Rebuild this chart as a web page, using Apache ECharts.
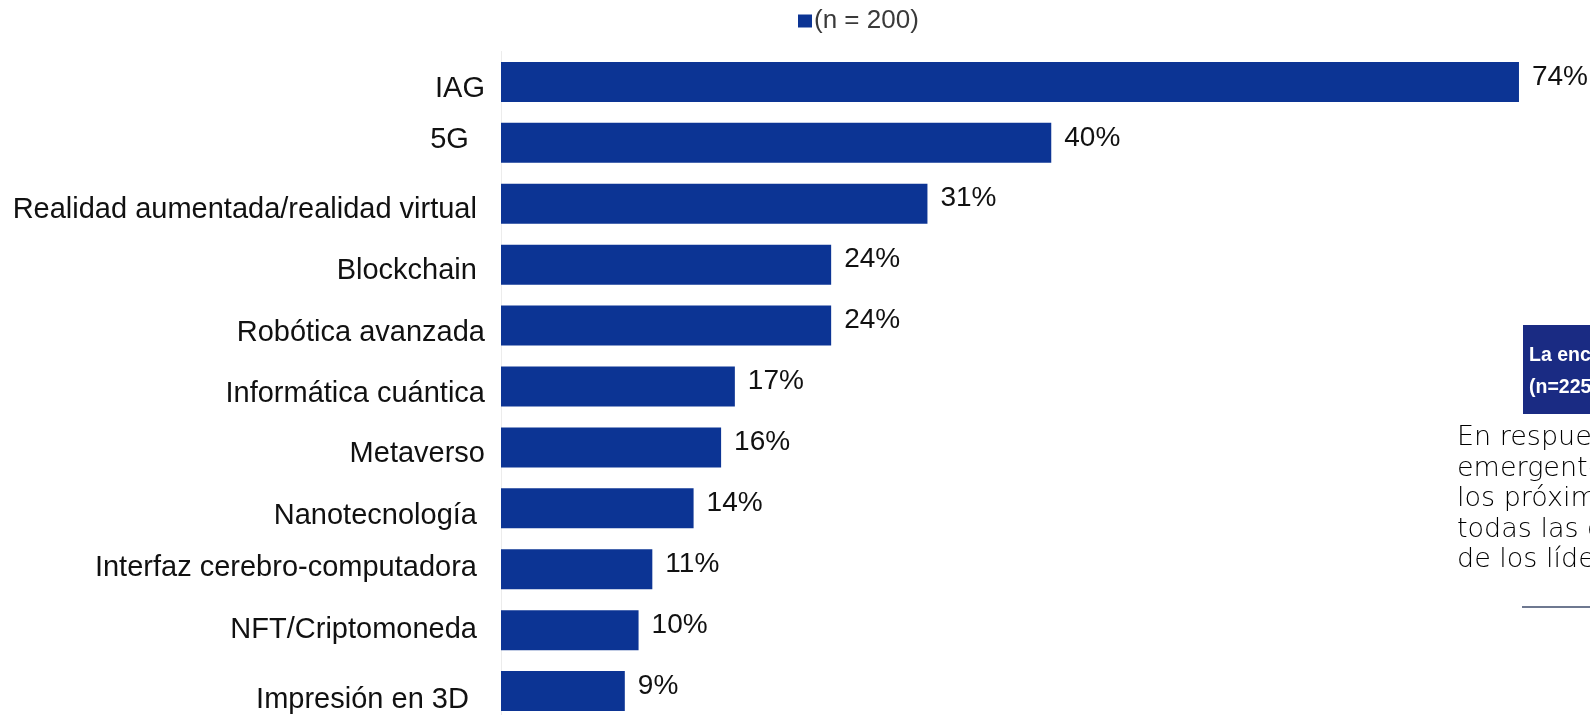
<!DOCTYPE html>
<html>
<head>
<meta charset="utf-8">
<script src="https://cdn.jsdelivr.net/npm/echarts@6/dist/echarts.min.js"></script>
<style>
html,body{margin:0;padding:0;background:#fff;}
#chart{width:1590px;height:715px;}
</style>
</head>
<body>
<div id="chart"></div>
<script>
const categories = [
  'IAG',
  '5G  ',
  'Realidad aumentada/realidad virtual ',
  'Blockchain ',
  'Robótica avanzada',
  'Informática cuántica',
  'Metaverso',
  'Nanotecnología ',
  'Interfaz cerebro-computadora ',
  'NFT/Criptomoneda ',
  'Impresión en 3D  '
];
const values = [74, 40, 31, 24, 24, 17, 16, 14, 11, 10, 9];
const seriesName = '(n = 200)';
const boxLines = ['La encuesta', '(n=225)'];
const bodyLines = ['En respuesta', 'emergentes', 'los próximos', 'todas las categorías', 'de los líderes'];

// style only: vertical nudge (px) of each category label relative to its bar
const labelNudge = [7, -3, 6, 6, 7, 7, 7, 8, -1, 0, 9];

const chart = echarts.init(document.getElementById('chart'));
const font = '"Liberation Sans", Arial, sans-serif';
const barColor = '#0c3494';

const rich = {};
labelNudge.forEach(function (n, i) {
  rich['n' + i] = {
    fontFamily: font,
    fontSize: 29,
    color: '#111111',
    padding: n >= 0 ? [2 * n, 0, 0, 0] : [0, 0, -2 * n, 0]
  };
});

const graphics = [
  {
    type: 'rect',
    shape: { x: 1523, y: 325, width: 80, height: 89 },
    style: { fill: '#1a2b83' }
  },
  {
    type: 'text',
    x: 1529, y: 356,
    style: { text: boxLines[0], fill: '#ffffff', font: 'bold 19.5px ' + font, verticalAlign: 'middle' }
  },
  {
    type: 'text',
    x: 1529, y: 388,
    style: { text: boxLines[1], fill: '#ffffff', font: 'bold 19.5px ' + font, verticalAlign: 'middle' }
  },
  {
    type: 'line',
    shape: { x1: 1522, y1: 607, x2: 1600, y2: 607 },
    style: { stroke: '#6e7890', lineWidth: 2 }
  }
];
bodyLines.forEach(function (t, i) {
  graphics.push({
    type: 'text',
    x: 1457, y: 438 + i * 30.5,
    style: { text: t, fill: '#000000', font: '200 27px "DejaVu Sans", sans-serif', verticalAlign: 'middle' }
  });
});

chart.setOption({
  animation: false,
  backgroundColor: '#ffffff',
  legend: {
    data: [seriesName],
    left: 793,
    top: 3,
    itemWidth: 14,
    itemHeight: 13,
    icon: 'rect',
    textStyle: { fontFamily: font, fontSize: 26, color: '#3a3a3a', padding: [0, 0, 34, -3] }
  },
  grid: { left: 501, top: 51.5, width: 1073, height: 670, outerBoundsMode: 'none', containLabel: false },
  xAxis: {
    type: 'value',
    min: 0,
    max: 78,
    show: false
  },
  yAxis: {
    type: 'category',
    data: categories,
    inverse: true,
    axisTick: { show: false },
    axisLine: { show: true, lineStyle: { color: '#ececec', width: 1 } },
    axisLabel: {
      fontFamily: font,
      fontSize: 29,
      color: '#111111',
      margin: 16,
      formatter: function (v, i) { return '{n' + i + '|' + v + '}'; },
      rich: rich
    }
  },
  series: [{
    name: seriesName,
    type: 'bar',
    data: values,
    barWidth: 40,
    itemStyle: { color: barColor },
    label: {
      show: true,
      position: 'right',
      distance: 13,
      offset: [0, -5],
      formatter: '{c}%',
      fontFamily: font,
      fontSize: 28,
      color: '#111111'
    }
  }],
  graphic: graphics
});
</script>
</body>
</html>
